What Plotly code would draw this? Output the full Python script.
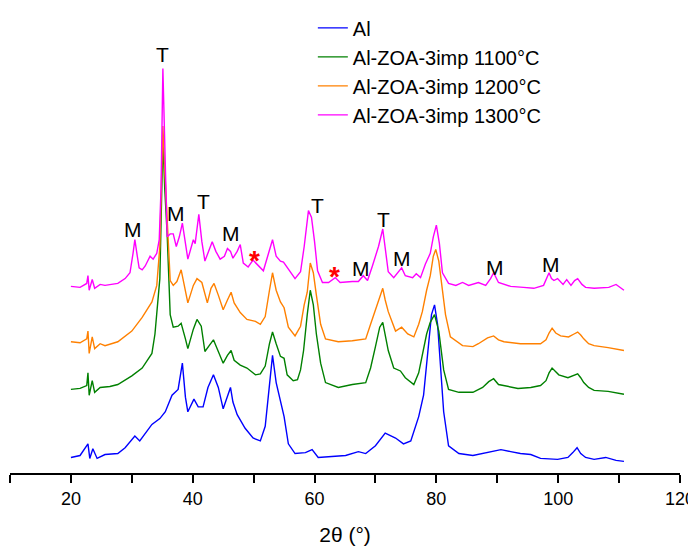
import plotly.graph_objects as go

# ---- data (2θ in degrees, intensity in a.u., stacked as displayed) ----
series_names = ["Al", "Al-ZOA-3imp 1100°C", "Al-ZOA-3imp 1200°C", "Al-ZOA-3imp 1300°C"]

al_x = [20.0, 21.5, 22.8, 23.1, 23.6, 24.3, 25.6, 27.7, 28.9, 30.5, 31.3, 33.3, 34.6, 35.5, 36.6,
        37.6, 38.3, 38.8, 39.2, 40.2, 40.9, 41.7, 42.5, 43.4, 44.2, 45.0, 46.2, 46.6, 47.3, 48.6,
        49.9, 51.1, 51.9, 52.6, 53.1, 53.7, 54.4, 55.0, 55.7, 56.8, 58.5, 59.6, 60.6, 62.6, 65.1,
        67.2, 68.4, 70.0, 71.6, 73.3, 74.6, 75.8, 77.1, 77.9, 78.6, 79.2, 79.7, 80.2, 80.7, 81.2,
        82.0, 83.7, 86.0, 89.2, 90.6, 92.2, 93.8, 95.5, 97.1, 99.9, 101.6, 102.4, 103.1, 103.7,
        104.5, 105.9, 107.8, 109.5, 110.8]
al_y = [16, 18, 30, 15, 25, 15, 19, 20, 26, 38, 33, 50, 56, 63, 80,
        86, 113, 78, 63, 76, 68, 68, 88, 101, 88, 66, 88, 73, 60, 46,
        36, 33, 48, 93, 121, 93, 73, 58, 30, 20, 21, 24, 16, 17, 18,
        22, 20, 28, 41, 36, 30, 33, 58, 80, 123, 163, 173, 153, 108, 63,
        28, 20, 18, 22, 24, 22, 20, 19, 15, 14, 16, 21, 26, 20,
        16, 14, 16, 13, 12]

s1100_x = [20.0, 21.5, 22.6, 22.8, 23.0, 23.5, 23.9, 24.8, 26.4, 27.7, 30.0, 31.7, 33.3, 33.8, 34.6,
           35.1, 35.4, 35.8, 36.3, 36.8, 37.6, 38.1, 38.8, 39.2, 40.1, 40.7, 41.4, 42.0, 42.7, 43.4,
           44.2, 45.0, 45.7, 46.3, 46.8, 47.8, 48.9, 50.3, 51.1, 51.9, 52.6, 53.1, 53.7, 54.4, 55.0,
           55.5, 56.5, 57.2, 57.7, 58.2, 58.8, 59.3, 59.8, 60.3, 61.0, 61.8, 63.9, 66.2, 68.4, 69.2,
           70.0, 70.7, 71.2, 71.6, 72.1, 73.0, 74.1, 74.9, 76.3, 77.1, 77.7, 78.4, 79.0, 79.7, 80.4,
           80.9, 81.2, 82.0, 83.7, 86.0, 87.6, 88.6, 89.4, 90.2, 91.1, 93.4, 95.5, 97.1, 98.0, 98.5,
           99.0, 99.6, 100.1, 101.6, 102.4, 103.2, 103.7, 104.2, 105.0, 105.9, 108.2, 110.8]
s1100_y = [86, 87, 90, 103, 80, 95, 83, 88, 89, 91, 100, 108, 123, 143, 200,
           343, 293, 246, 163, 150, 151, 154, 138, 128, 148, 158, 151, 125, 131, 137,
           125, 113, 121, 126, 116, 111, 108, 101, 102, 110, 133, 145, 133, 120, 118,
           101, 95, 96, 106, 126, 163, 188, 173, 143, 113, 93, 88, 91, 93, 108,
           130, 150, 155, 143, 126, 108, 105, 98, 91, 103, 120, 143, 155, 163, 146,
           123, 106, 86, 83, 83, 88, 94, 97, 91, 90, 87, 88, 90, 95, 103,
           108, 104, 101, 98, 100, 102, 98, 93, 88, 85, 84, 81]

s1200_x = [20.0, 21.5, 22.6, 22.8, 23.0, 23.5, 23.9, 24.8, 25.6, 27.7, 30.0, 31.7, 33.3, 34.1, 34.6,
           35.1, 35.4, 35.8, 36.3, 36.8, 37.4, 38.1, 38.8, 39.2, 40.1, 40.7, 41.5, 42.4, 43.0, 43.5,
           44.2, 45.0, 45.7, 46.3, 46.8, 47.8, 48.9, 50.3, 51.1, 51.9, 52.6, 53.1, 53.7, 54.4, 55.0,
           55.7, 56.8, 57.7, 58.3, 58.8, 59.3, 59.8, 60.3, 61.0, 61.8, 63.9, 66.2, 68.4, 69.2, 70.0,
           70.7, 71.2, 71.6, 72.1, 73.3, 74.3, 75.3, 76.3, 77.1, 77.7, 78.4, 79.0, 79.5, 79.9, 80.4,
           80.7, 81.2, 81.5, 82.3, 84.3, 86.0, 86.9, 88.4, 89.4, 90.2, 91.1, 93.8, 97.1, 98.0, 98.5,
           99.0, 99.6, 100.4, 101.7, 102.6, 103.2, 103.7, 104.2, 105.0, 105.9, 108.2, 110.8]
s1200_y = [135, 134, 138, 146, 123, 140, 128, 133, 131, 135, 146, 160, 176, 193, 233,
           357, 313, 266, 198, 193, 197, 209, 188, 175, 193, 200, 196, 175, 190, 195,
           183, 168, 178, 186, 175, 165, 158, 156, 153, 161, 188, 206, 188, 176, 170,
           150, 141, 151, 173, 186, 216, 206, 183, 153, 138, 135, 136, 138, 153, 168,
           183, 190, 178, 166, 146, 150, 143, 140, 153, 166, 188, 203, 223, 230, 218,
           203, 178, 163, 140, 131, 130, 133, 139, 141, 137, 135, 133, 133, 137, 144,
           149, 144, 141, 140, 143, 145, 142, 138, 133, 131, 129, 126]

s1300_x = [20.0, 21.5, 22.6, 22.8, 23.0, 23.5, 23.9, 24.8, 25.6, 27.7, 28.9, 29.7, 30.2, 30.5, 30.9,
           31.2, 31.7, 32.2, 33.0, 33.5, 34.1, 34.5, 34.8, 35.1, 35.5, 35.8, 36.3, 36.8, 37.3, 37.8,
           38.3, 38.8, 39.2, 40.1, 40.4, 41.0, 41.5, 42.0, 42.7, 43.2, 43.8, 44.5, 45.2, 45.7, 46.2,
           46.6, 47.3, 47.8, 48.3, 49.1, 49.9, 50.8, 51.6, 52.4, 53.1, 53.7, 54.4, 54.9, 55.7, 56.8,
           57.7, 58.3, 59.0, 59.5, 60.0, 60.5, 61.3, 62.3, 63.4, 64.2, 66.2, 67.2, 68.0, 68.7, 69.5,
           70.0, 70.5, 71.2, 71.6, 72.1, 73.0, 74.3, 74.9, 76.1, 76.7, 77.4, 78.2, 79.0, 79.5, 80.0,
           80.5, 81.0, 82.0, 83.2, 84.3, 85.3, 86.9, 88.1, 88.9, 89.4, 90.2, 92.2, 94.3, 96.0, 97.6,
           98.1, 98.5, 98.9, 99.3, 99.9, 100.8, 101.4, 102.1, 102.7, 103.2, 103.9, 104.5, 105.9, 108.3,
           109.5, 110.8]
s1300_y = [192, 191, 195, 203, 188, 199, 190, 194, 193, 195, 200, 206, 226, 240, 223,
           211, 209, 213, 223, 220, 226, 240, 293, 416, 316, 243, 246, 246, 233, 243,
           257, 238, 220, 240, 236, 266, 238, 218, 231, 238, 228, 220, 223, 231, 228,
           221, 228, 235, 216, 212, 219, 213, 208, 225, 240, 223, 218, 217, 210, 200,
           207, 233, 270, 263, 238, 208, 196, 196, 201, 196, 197, 197, 203, 198, 213,
           223, 233, 251, 233, 207, 201, 211, 203, 201, 205, 201, 215, 226, 243, 255,
           236, 206, 195, 193, 196, 193, 196, 193, 200, 206, 196, 192, 191, 190, 193,
           200, 206, 200, 198, 200, 194, 199, 193, 198, 200, 194, 191, 190, 191,
           194, 188]

series_x = [al_x, s1100_x, s1200_x, s1300_x]
series_y = [al_y, s1100_y, s1200_y, s1300_y]
series_colors = ["#0000FF", "#008000", "#FF8000", "#FF00FF"]

# phase labels (T = tetragonal, M = monoclinic, * = other)
label_text = ["T", "M", "M", "T", "M", "*", "T", "*", "M", "T", "M", "M", "M"]
label_x = [35.0, 30.2, 37.3, 41.7, 46.3, 50.1, 60.5, 63.3, 67.7, 71.3, 74.3, 89.6, 98.8]
label_y = [431, 250, 267, 279, 246, 226, 275, 209, 210, 261, 221, 211, 214]

tick_vals = [10, 20, 30, 40, 50, 60, 70, 80, 90, 100, 110, 120]
tick_text = ["", "20", "", "40", "", "60", "", "80", "", "100", "", "120"]

fig = go.Figure()
for name, xs, ys, col in zip(series_names, series_x, series_y, series_colors):
    fig.add_trace(go.Scatter(x=xs, y=ys, mode="lines", name=name,
                             line=dict(color=col, width=1.4)))

for t, x, y in zip(label_text, label_x, label_y):
    if t == "*":
        fig.add_annotation(x=x, y=y - 7, text="<b>*</b>", showarrow=False,
                           font=dict(family="Arial, Liberation Sans", size=28, color="#FF0000"))
    else:
        fig.add_annotation(x=x, y=y, text=t, showarrow=False,
                           font=dict(family="Arial, Liberation Sans", size=21, color="black"))

# page body has an 8px margin, so the figure is sized to fit inside the 696x546 window
fig.update_layout(
    width=688, height=538,
    margin=dict(l=2, r=16, t=0, b=73),
    paper_bgcolor="white", plot_bgcolor="white",
    font=dict(family="Arial, Liberation Sans", color="black"),
    showlegend=True,
    legend=dict(x=0.452, y=1.028, xanchor="left", yanchor="top",
                bgcolor="rgba(0,0,0,0)", borderwidth=0,
                font=dict(size=20, family="Arial, Liberation Sans"),
                tracegroupgap=0),
    xaxis=dict(range=[10, 120], tickmode="array", tickvals=tick_vals, ticktext=tick_text,
               ticks="outside", ticklen=8, tickwidth=2, tickcolor="black",
               showline=True, linecolor="black", linewidth=2, showgrid=False, zeroline=False,
               tickfont=dict(size=18),
               title=dict(text="2θ (°)", font=dict(size=21), standoff=20)),
    yaxis=dict(range=[0, 465], visible=False, showgrid=False, zeroline=False),
)

fig.write_html("out.html")
